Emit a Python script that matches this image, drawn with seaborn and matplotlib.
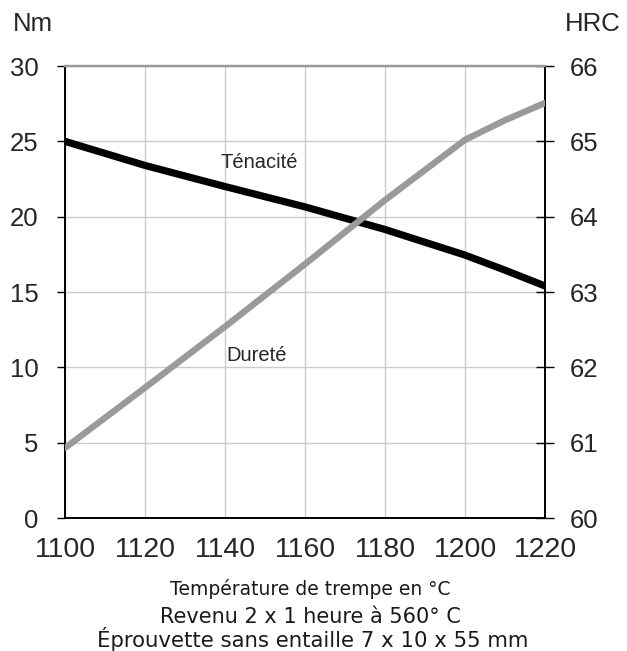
import matplotlib
matplotlib.use("Agg")
import matplotlib.pyplot as plt
import seaborn as sns
import pandas as pd

temps = [1100, 1120, 1140, 1160, 1180, 1200, 1210, 1220]
tenacite = [25.0, 23.4, 22.0, 20.65, 19.15, 17.45, 16.45, 15.4]
durete = [60.93, 61.73, 62.54, 63.37, 64.22, 65.02, 65.28, 65.51]

x_ticks = [1100, 1120, 1140, 1160, 1180, 1200, 1220]
left_ticks = [0, 5, 10, 15, 20, 25, 30]
right_ticks = [60, 61, 62, 63, 64, 65, 66]

sns.set_style("white")
plt.rcParams['font.family'] = ['Liberation Sans', 'DejaVu Sans']

df = pd.DataFrame({"T": temps, "Tenacite": tenacite, "Durete": durete})

fig = plt.figure(figsize=(6.27, 6.51), dpi=100)
ax = fig.add_axes([65/627, 1-518/651, 480/627, 452/651])
ax2 = ax.twinx()

sns.lineplot(data=df, x="T", y="Tenacite", ax=ax, color="black", linewidth=5.2, zorder=3)
sns.lineplot(data=df, x="T", y="Durete", ax=ax2, color="#9a9a9a", linewidth=4.6, zorder=3)

ax.set_xlim(1100, 1220)
ax.set_ylim(0, 30)
ax2.set_ylim(60, 66)
ax.set_xticks(x_ticks)
ax.set_yticks(left_ticks)
ax2.set_yticks(right_ticks)
ax.grid(True, color="#cccccc", linewidth=1)
ax.set_axisbelow(True)
ax.set_xlabel("")
ax.set_ylabel("")
ax2.set_ylabel("")

for a in (ax, ax2):
    a.spines['top'].set_color('#999999')
    a.spines['left'].set_color('black')
    a.spines['right'].set_color('black')
    a.spines['bottom'].set_color('black')
    for s in a.spines.values():
        s.set_linewidth(1.2)
    a.spines['top'].set_linewidth(1.6)

ax.tick_params(axis='y', direction='out', length=6, width=1, labelsize=18.5, pad=13, color='black')
ax.tick_params(axis='x', direction='out', length=5, width=1, labelsize=20.5, pad=9, color='black')
ax2.tick_params(axis='y', direction='inout', length=13, width=1, labelsize=18.5, pad=11, color='black')

ax.text(1148.5, 23.6, "Ténacité", fontsize=14.5, ha="center", va="center", zorder=5)
ax.text(1148, 10.8, "Dureté", fontsize=14.5, ha="center", va="center", zorder=5)

fig.text(33/627, 1-24/651, "Nm", fontsize=18.5, ha="center", va="center")
fig.text(593/627, 1-24/651, "HRC", fontsize=18.5, ha="center", va="center")

bf = ['DejaVu Sans']
fig.text(310/627, 1-595/651, "Température de trempe en °C", fontsize=13.5, ha="center", va="baseline", family=bf, color="#1a1a1a")
fig.text(310/627, 1-623/651, "Revenu 2 x 1 heure à 560° C", fontsize=15, ha="center", va="baseline", family=bf, color="#1a1a1a")
fig.text(313/627, 1-647/651, "Éprouvette sans entaille 7 x 10 x 55 mm", fontsize=15.3, ha="center", va="baseline", family=bf, color="#1a1a1a")

fig.savefig("out.png", dpi=100)
